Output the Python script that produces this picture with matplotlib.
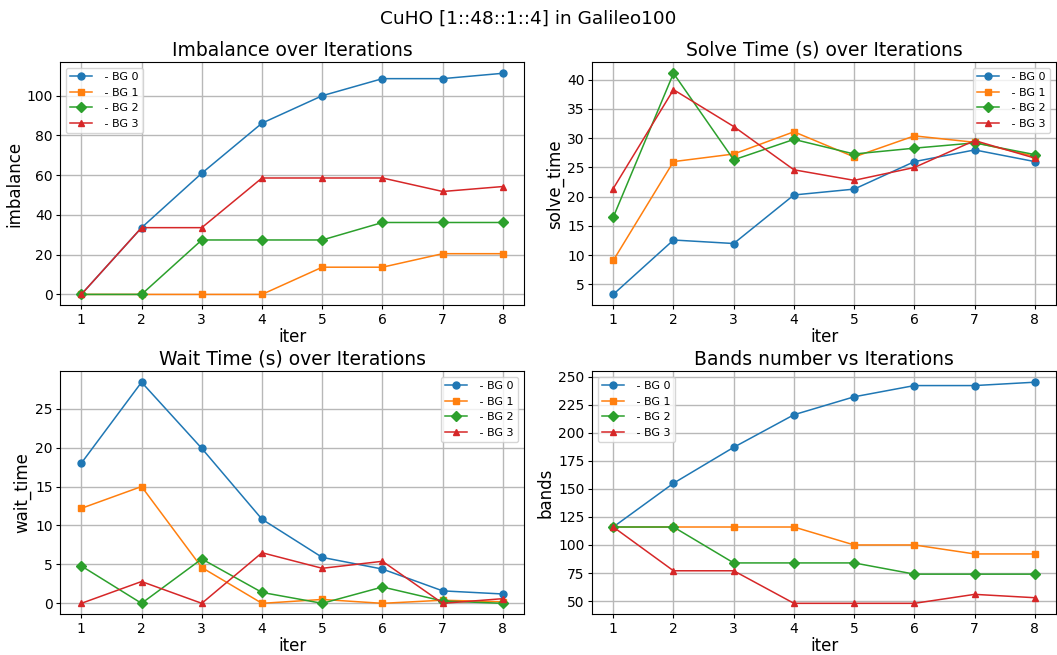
import matplotlib

matplotlib.use("Agg")
import matplotlib.pyplot as plt
from matplotlib.ticker import MultipleLocator

iters = [1, 2, 3, 4, 5, 6, 7, 8]
groups = ["BG 0", "BG 1", "BG 2", "BG 3"]

imbalance = [
    [0, 33.6, 61.0, 86.2, 100.0, 108.6, 108.6, 111.3],
    [0, 0, 0, 0, 13.7, 13.7, 20.5, 20.5],
    [0, 0, 27.4, 27.4, 27.4, 36.2, 36.2, 36.2],
    [0, 33.6, 33.6, 58.6, 58.6, 58.6, 51.8, 54.3],
]
solve_time = [
    [3.3, 12.6, 12.0, 20.3, 21.3, 26.0, 28.0, 26.0],
    [9.1, 26.0, 27.3, 31.1, 26.8, 30.4, 29.3, 26.9],
    [16.5, 41.1, 26.3, 29.8, 27.3, 28.3, 29.2, 27.2],
    [21.4, 38.3, 32.0, 24.6, 22.8, 25.0, 29.6, 26.6],
]
wait_time = [
    [18.0, 28.4, 19.9, 10.8, 5.9, 4.4, 1.6, 1.2],
    [12.2, 15.0, 4.6, 0.0, 0.5, 0.0, 0.4, 0.2],
    [4.8, 0.0, 5.7, 1.4, 0.0, 2.1, 0.3, 0.0],
    [0.0, 2.8, 0.0, 6.5, 4.5, 5.4, 0.0, 0.6],
]
bands = [
    [116, 155, 187, 216, 232, 242, 242, 245],
    [116, 116, 116, 116, 100, 100, 92, 92],
    [116, 116, 84, 84, 84, 74, 74, 74],
    [116, 77, 77, 48, 48, 48, 56, 53],
]
y_steps = [20, 5, 5, 25]

markers = ["o", "s", "D", "^"]
colors = ["#1f77b4", "#ff7f0e", "#2ca02c", "#d62728"]

panels = [
    (imbalance, "Imbalance over Iterations", "imbalance", "upper left"),
    (solve_time, "Solve Time (s) over Iterations", "solve_time", "upper right"),
    (wait_time, "Wait Time (s) over Iterations", "wait_time", "upper right"),
    (bands, "Bands number vs Iterations", "bands", "upper left"),
]

fig, axes = plt.subplots(2, 2, figsize=(10.57, 6.55), dpi=100)
for ax, (series, title, ylabel, loc), step in zip(axes.flat, panels, y_steps):
    for values, name, marker, color in zip(series, groups, markers, colors):
        ax.plot(iters, values, marker=marker, markersize=5, color=color,
                linewidth=1.1, label=f" - {name}")
    ax.set_title(title, fontsize=13.5, pad=4.6)
    ax.set_xlabel("iter", fontsize=12, labelpad=0.5)
    ax.set_ylabel(ylabel, fontsize=12, labelpad=2.5)
    ax.set_xticks(iters)
    ax.yaxis.set_major_locator(MultipleLocator(step))
    ax.tick_params(labelsize=10, length=2.7, pad=2.7)
    ax.grid(True, linewidth=1.0, color="#b8b8b8")
    ax.legend(loc=loc, fontsize=8)

fig.suptitle("CuHO [1::48::1::4] in Galileo100", fontsize=13.3, y=0.985)
fig.subplots_adjust(left=0.057, right=0.999, top=0.905, bottom=0.062,
                    wspace=0.147, hspace=0.27)
fig.savefig("out.png", dpi=100)
